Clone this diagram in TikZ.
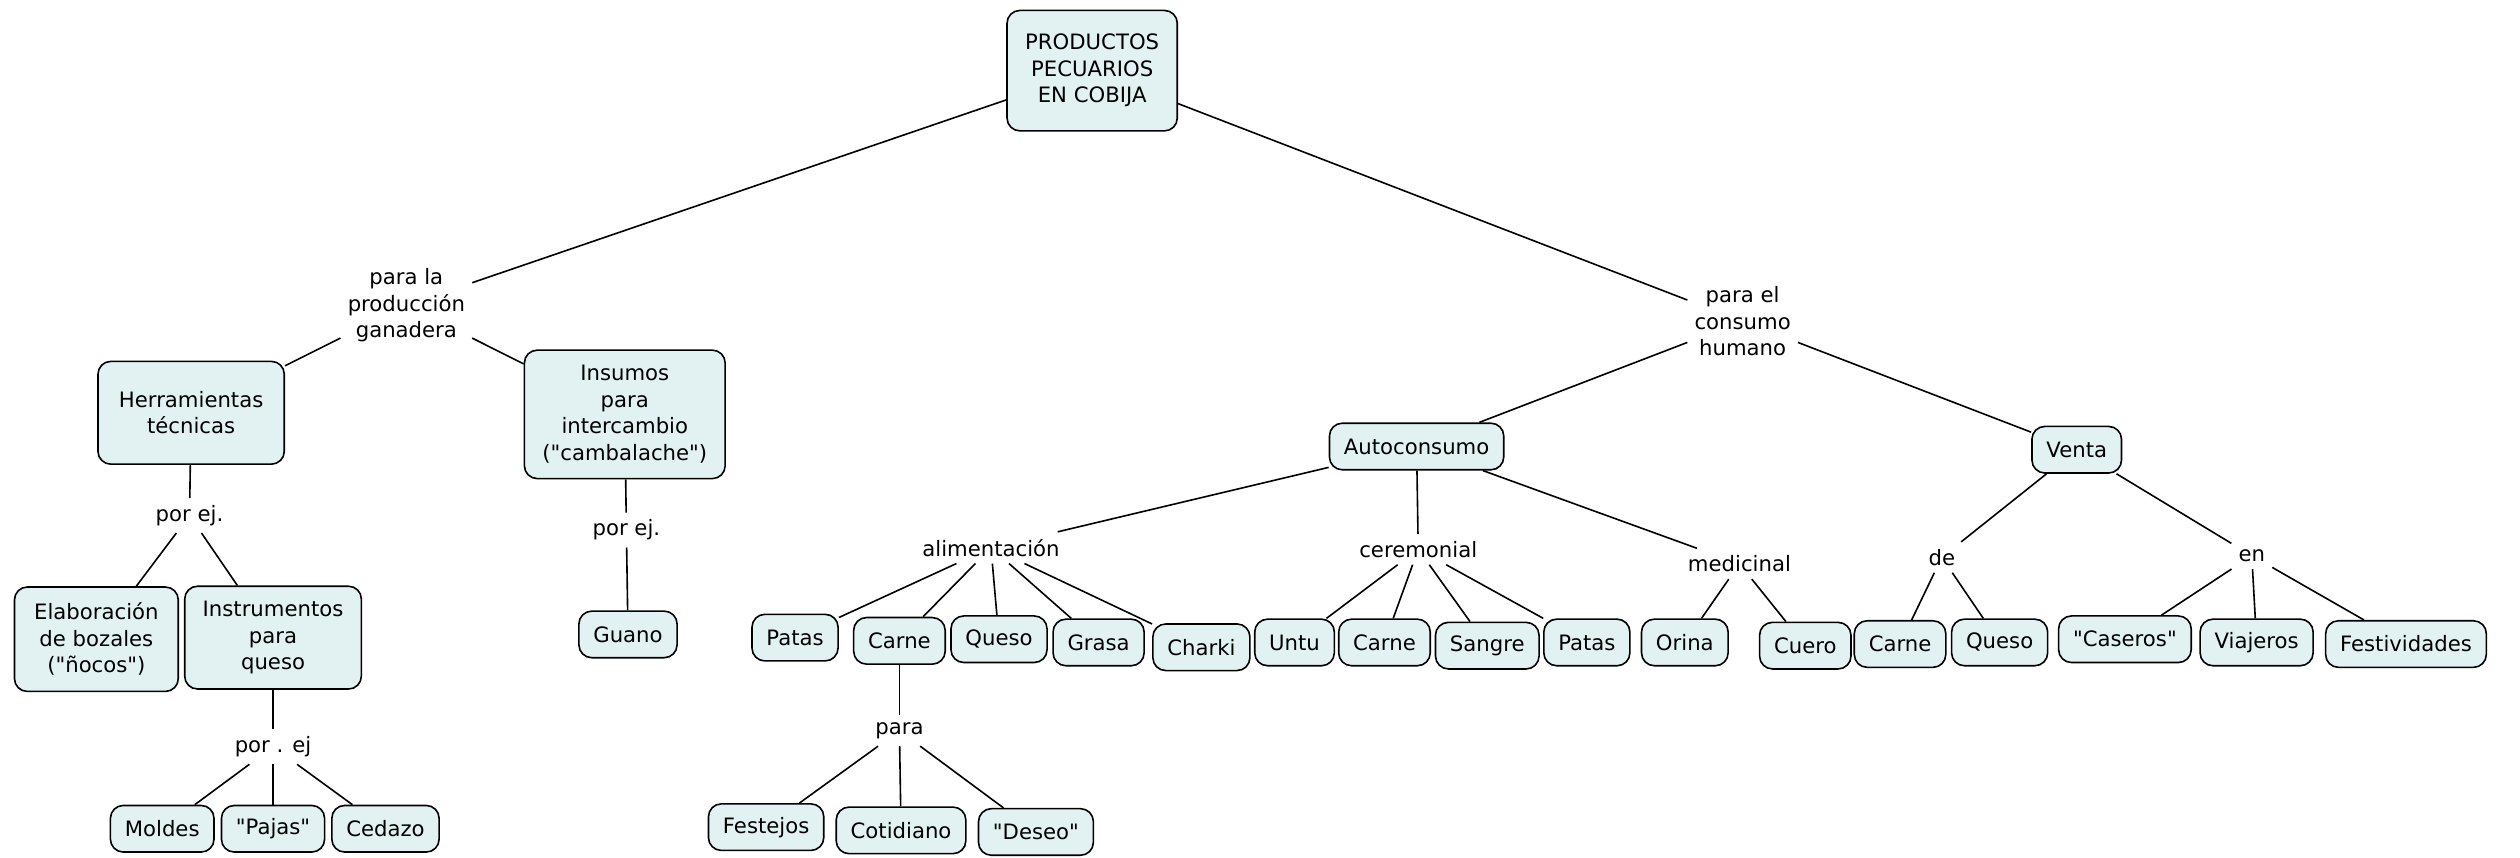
\documentclass[tikz,border=0pt]{standalone}
\usepackage{fontspec}
\setmainfont{DejaVu Sans}
\definecolor{boxfill}{RGB}{226,242,242}
\newcommand{\dq}{\textquotedbl}

\begin{document}
\begin{tikzpicture}[x=1pt,y=-1pt,line width=1pt,
    every node/.style={font=\fontsize{13.2}{16.5}\selectfont,align=center},
    box/.style={draw,rounded corners=8pt,fill=boxfill,inner xsep=9pt,inner ysep=7pt,minimum height=29pt},
    lbl/.style={inner sep=4pt}]
    \useasboundingbox (0,0) rectangle (1569,534);

    % top
    \node[box,minimum width=106pt,minimum height=75pt] (prod) at (680,44) {PRODUCTOS\\PECUARIOS\\EN COBIJA};
    \node[lbl] (pg) at (253,190) {para la\\producción\\ganadera};
    \node[lbl] (pc) at (1085,200) {para el\\consumo\\humano};

    % produccion ganadera
    \node[box,minimum width=116pt,minimum height=64pt] (herr) at (119,257) {Herramientas\\técnicas};
    \node[box,minimum width=125pt,minimum height=80pt] (ins) at (389,258) {Insumos\\para\\intercambio\\(\dq cambalache\dq)};
    \node[lbl] (pe1) at (118,321) {por ej.};
    \node[box,minimum width=102pt,minimum height=65pt] (elab) at (60,398) {Elaboración\\de bozales\\(\dq ñocos\dq)};
    \node[box,minimum width=110pt,minimum height=64pt] (inst) at (170,397) {Instrumentos\\para\\queso};
    \node[lbl] (pe2) at (170,465) {por . ej};
    \node[box] (mol) at (101,516) {Moldes};
    \node[box] (paj) at (170,516) {\dq Pajas\dq};
    \node[box] (ced) at (240,516) {Cedazo};
    \node[lbl] (pe3) at (390,330) {por ej.};
    \node[box] (gua) at (391,395) {Guano};

    % consumo humano
    \node[box] (auto) at (882,278) {Autoconsumo};
    \node[box] (ven) at (1293,280) {Venta};
    \node[lbl] (ali) at (617,341) {alimentación};
    \node[lbl] (cer) at (883,342) {ceremonial};
    \node[lbl] (med) at (1083,351) {medicinal};
    \node[box] (pat1) at (495,397) {Patas};
    \node[box] (car1) at (560,399) {Carne};
    \node[box] (que1) at (622,398) {Queso};
    \node[box] (gra) at (684,400) {Grasa};
    \node[box] (cha) at (748,403) {Charki};
    \node[lbl] (pa) at (560,455) {para};
    \node[box] (fes1) at (477,515) {Festejos};
    \node[box] (cot) at (561,517) {Cotidiano};
    \node[box] (des) at (645,518) {\dq Deseo\dq};
    \node[box] (unt) at (806,400) {Untu};
    \node[box] (car2) at (862,400) {Carne};
    \node[box] (san) at (926,402) {Sangre};
    \node[box] (pat2) at (988,400) {Patas};
    \node[box] (ori) at (1049,400) {Orina};
    \node[box] (cue) at (1124,402) {Cuero};
    \node[lbl] (de) at (1209,347) {de};
    \node[lbl] (en) at (1402,346) {en};
    \node[box] (car3) at (1183,401) {Carne};
    \node[box] (que2) at (1245,400) {Queso};
    \node[box] (cas) at (1323,398) {\dq Caseros\dq};
    \node[box] (via) at (1405,400) {Viajeros};
    \node[box] (fes2) at (1498,401) {Festividades};

    \draw (prod) -- (pg) (prod) -- (pc);
    \draw (pg) -- (herr) (pg) -- (ins);
    \draw (herr) -- (pe1) (pe1) -- (elab) (pe1) -- (inst);
    \draw (inst) -- (pe2);
    \foreach \n in {mol,paj,ced}{
        \draw (pe2) -- (\n);
    }
    \draw (ins) -- (pe3) -- (gua);
    \draw (pc) -- (auto) (pc) -- (ven);
    \draw (auto) -- (ali) (auto) -- (cer) (auto) -- (med);
    \foreach \n in {pat1,car1,que1,gra,cha}{
        \draw (ali) -- (\n);
    }
    \draw (car1) -- (pa);
    \foreach \n in {fes1,cot,des}{
        \draw (pa) -- (\n);
    }
    \foreach \n in {unt,car2,san,pat2}{
        \draw (cer) -- (\n);
    }
    \draw (med) -- (ori) (med) -- (cue);
    \draw (ven) -- (de) (ven) -- (en);
    \draw (de) -- (car3) (de) -- (que2);
    \foreach \n in {cas,via,fes2}{
        \draw (en) -- (\n);
    }

\end{tikzpicture}
\end{document}
